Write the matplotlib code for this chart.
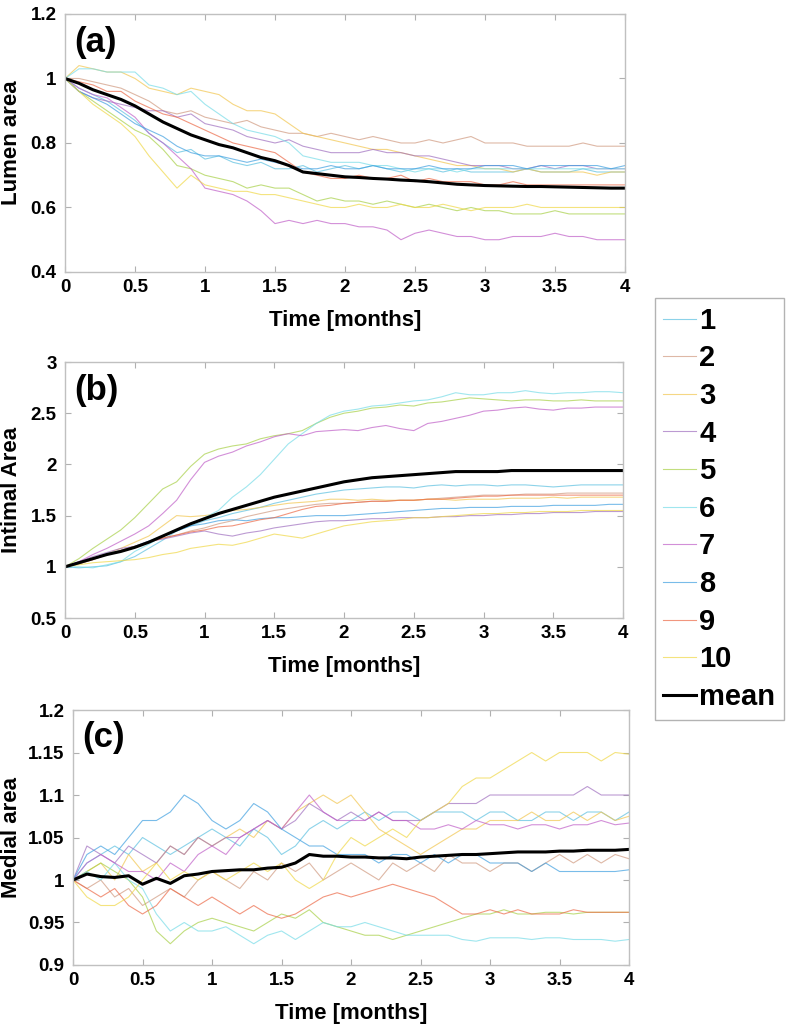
import numpy as np
import matplotlib
matplotlib.use('Agg')
import matplotlib.pyplot as plt

plt.rcParams['font.family'] = ['Liberation Sans', 'DejaVu Sans']
plt.rcParams['font.weight'] = 'bold'

# time axis, months (sampled every 0.1 month)
t = np.linspace(0, 4, 41)

labels = ['1', '2', '3', '4', '5', '6', '7', '8', '9', '10']
colors = ['#5cc0e0', '#d09a80', '#f2c650', '#a070c0', '#a8d048',
          '#78dce8', '#c060c8', '#40a0e0', '#ec6a48', '#f0d848']

# (a) lumen area
a1 = [1.00, 0.97,0.95,0.93,0.90,0.87,0.83,0.80,0.77,0.78,0.75, 0.76,0.74,0.73,0.74,0.72,0.72,0.73,0.71,0.72,0.73,
      0.72,0.73,0.72,0.71,0.72,0.72,0.71,0.72,0.71,0.71, 0.71,0.71,0.72,0.71,0.71,0.71,0.72,0.71,0.71,0.71]
a2 = [1.00, 1.00,0.99,0.98,0.97,0.95,0.93,0.90,0.89,0.90,0.88, 0.87,0.86,0.87,0.85,0.84,0.83,0.83,0.82,0.83,0.82,
      0.81,0.82,0.81,0.80,0.80,0.81,0.80,0.81,0.82,0.80, 0.80,0.80,0.79,0.79,0.79,0.79,0.80,0.79,0.79,0.79]
a3 = [1.00, 1.04,1.03,1.02,1.02,1.00,0.97,0.96,0.95,0.97,0.96, 0.95,0.92,0.90,0.90,0.89,0.86,0.83,0.82,0.81,0.80,
      0.79,0.78,0.78,0.77,0.76,0.75,0.74,0.73,0.73,0.72, 0.72,0.71,0.72,0.71,0.71,0.71,0.71,0.70,0.71,0.71]
a4 = [1.00, 0.96,0.94,0.93,0.92,0.91,0.90,0.90,0.88,0.89,0.86, 0.85,0.84,0.82,0.81,0.80,0.81,0.79,0.78,0.77,0.77,
      0.77,0.78,0.77,0.77,0.76,0.76,0.75,0.74,0.73,0.73, 0.73,0.72,0.72,0.73,0.72,0.73,0.73,0.72,0.72,0.72]
a5 = [1.00, 0.96,0.93,0.90,0.87,0.84,0.82,0.78,0.73,0.72,0.70, 0.69,0.68,0.66,0.67,0.66,0.66,0.64,0.62,0.63,0.62,
      0.62,0.61,0.62,0.61,0.60,0.61,0.60,0.59,0.60,0.59, 0.59,0.58,0.58,0.58,0.59,0.58,0.58,0.58,0.58,0.58]
a6 = [1.00, 1.03,1.03,1.02,1.02,1.02,0.98,0.97,0.95,0.96,0.92, 0.89,0.86,0.84,0.83,0.82,0.80,0.76,0.75,0.74,0.74,
      0.74,0.73,0.73,0.72,0.71,0.72,0.72,0.71,0.72,0.72, 0.72,0.72,0.72,0.72,0.72,0.72,0.72,0.72,0.72,0.72]
a7 = [1.00, 0.97,0.95,0.94,0.91,0.88,0.83,0.80,0.76,0.72,0.66, 0.65,0.64,0.62,0.59,0.55,0.56,0.55,0.56,0.55,0.55,
      0.54,0.54,0.53,0.50,0.52,0.53,0.52,0.51,0.51,0.50, 0.50,0.51,0.51,0.51,0.52,0.51,0.51,0.50,0.50,0.50]
a8 = [1.00, 0.96,0.94,0.92,0.89,0.86,0.84,0.82,0.79,0.77,0.76, 0.76,0.75,0.74,0.75,0.74,0.73,0.72,0.72,0.73,0.72,
      0.72,0.73,0.72,0.72,0.72,0.73,0.72,0.72,0.72,0.73, 0.73,0.73,0.72,0.73,0.73,0.73,0.73,0.73,0.72,0.73]
a9 = [1.00, 0.99,0.98,0.96,0.96,0.93,0.91,0.89,0.88,0.86,0.84, 0.82,0.80,0.79,0.78,0.77,0.74,0.71,0.70,0.69,0.69,
      0.70,0.69,0.69,0.70,0.68,0.69,0.68,0.68,0.68,0.67, 0.67,0.68,0.67,0.67,0.67,0.67,0.67,0.67,0.67,0.67]
a10 = [1.00, 0.96,0.92,0.89,0.86,0.82,0.76,0.71,0.66,0.70,0.67, 0.66,0.65,0.65,0.64,0.64,0.63,0.62,0.61,0.60,0.60,
       0.61,0.60,0.60,0.61,0.60,0.60,0.61,0.60,0.59,0.60, 0.60,0.60,0.61,0.60,0.60,0.60,0.60,0.60,0.60,0.60]
mean_a = [1.00, 0.985,0.965,0.950,0.935,0.915,0.890,0.865,0.845,0.825,0.810, 0.795,0.785,0.770,0.755,0.745,0.730,0.710,0.705,0.700,0.695,
          0.693,0.690,0.688,0.685,0.683,0.680,0.676,0.672,0.670,0.668, 0.667,0.666,0.665,0.665,0.664,0.663,0.662,0.661,0.660,0.660]

# (b) intimal area
b1 = [1.00, 0.99,1.00,1.01,1.05,1.10,1.18,1.26,1.35,1.40,1.45, 1.48,1.52,1.55,1.58,1.62,1.65,1.68,1.71,1.73,1.75,
      1.76,1.77,1.78,1.78,1.77,1.79,1.80,1.79,1.80,1.80, 1.79,1.80,1.80,1.79,1.78,1.79,1.80,1.80,1.80,1.80]
b2 = [1.00, 1.03,1.07,1.12,1.16,1.20,1.24,1.28,1.31,1.35,1.38, 1.42,1.45,1.49,1.52,1.55,1.57,1.59,1.61,1.62,1.62,
      1.63,1.64,1.64,1.65,1.65,1.66,1.67,1.68,1.69,1.70, 1.70,1.70,1.71,1.71,1.71,1.72,1.72,1.72,1.72,1.72]
b3 = [1.00, 1.04,1.08,1.13,1.18,1.24,1.30,1.40,1.50,1.49,1.50, 1.52,1.55,1.56,1.58,1.60,1.62,1.63,1.64,1.66,1.66,
      1.65,1.66,1.65,1.65,1.65,1.66,1.66,1.65,1.66,1.66, 1.66,1.67,1.67,1.67,1.68,1.67,1.68,1.68,1.68,1.68]
b4 = [1.00, 1.05,1.10,1.14,1.18,1.20,1.25,1.27,1.30,1.33,1.35, 1.32,1.30,1.33,1.35,1.38,1.40,1.42,1.44,1.45,1.45,
      1.46,1.47,1.47,1.48,1.48,1.48,1.49,1.49,1.50,1.50, 1.51,1.51,1.52,1.52,1.53,1.53,1.53,1.54,1.54,1.54]
b5 = [1.00, 1.08,1.18,1.27,1.36,1.48,1.62,1.76,1.83,1.98,2.10, 2.15,2.18,2.20,2.25,2.28,2.30,2.33,2.40,2.46,2.50,
      2.52,2.55,2.56,2.58,2.57,2.60,2.61,2.63,2.65,2.64, 2.63,2.62,2.63,2.63,2.62,2.62,2.63,2.62,2.62,2.62]
b6 = [1.00, 1.00,0.99,1.02,1.05,1.15,1.22,1.30,1.35,1.42,1.48, 1.55,1.68,1.78,1.90,2.05,2.20,2.30,2.40,2.48,2.52,
      2.54,2.57,2.58,2.60,2.62,2.63,2.66,2.70,2.68,2.68, 2.70,2.70,2.72,2.70,2.69,2.70,2.70,2.71,2.71,2.70]
b7 = [1.00, 1.05,1.12,1.18,1.25,1.32,1.40,1.52,1.65,1.85,2.02, 2.08,2.12,2.18,2.22,2.27,2.30,2.28,2.32,2.33,2.34,
      2.33,2.36,2.38,2.35,2.33,2.40,2.42,2.45,2.48,2.52, 2.53,2.55,2.56,2.54,2.53,2.55,2.55,2.56,2.56,2.56]
b8 = [1.00, 1.03,1.08,1.13,1.16,1.20,1.25,1.30,1.35,1.40,1.42, 1.45,1.46,1.45,1.47,1.48,1.48,1.49,1.50,1.50,1.50,
      1.51,1.52,1.53,1.54,1.55,1.56,1.57,1.57,1.58,1.58, 1.58,1.59,1.59,1.59,1.60,1.60,1.60,1.60,1.61,1.61]
b9 = [1.00, 1.03,1.07,1.12,1.16,1.20,1.24,1.28,1.31,1.34,1.36, 1.39,1.40,1.43,1.46,1.48,1.52,1.56,1.59,1.60,1.62,
      1.63,1.64,1.64,1.65,1.65,1.66,1.66,1.67,1.68,1.69, 1.69,1.70,1.70,1.70,1.70,1.70,1.70,1.70,1.70,1.70]
b10 = [1.00, 1.02,1.04,1.05,1.06,1.07,1.09,1.12,1.14,1.18,1.20, 1.22,1.21,1.24,1.28,1.32,1.30,1.28,1.32,1.36,1.40,
       1.42,1.44,1.45,1.46,1.48,1.48,1.49,1.50,1.51,1.52, 1.52,1.53,1.53,1.54,1.54,1.54,1.55,1.55,1.55,1.55]
mean_b = [1.00, 1.04,1.08,1.12,1.15,1.19,1.24,1.30,1.36,1.42,1.47, 1.52,1.56,1.60,1.64,1.68,1.71,1.74,1.77,1.80,1.83,
          1.85,1.87,1.88,1.89,1.90,1.91,1.92,1.93,1.93,1.93, 1.93,1.94,1.94,1.94,1.94,1.94,1.94,1.94,1.94,1.94]

# (c) medial area
c1 = [1.00, 1.02,1.03,1.04,1.03,1.05,1.04,1.03,1.04,1.05,1.06, 1.05,1.04,1.06,1.05,1.03,1.04,1.06,1.07,1.06,1.07,
      1.08,1.07,1.08,1.08,1.07,1.08,1.08,1.08,1.07,1.08, 1.08,1.07,1.07,1.08,1.08,1.07,1.08,1.08,1.07,1.08]
c2 = [1.00, 0.99,1.00,0.98,0.99,0.97,0.98,0.99,0.98,1.00,1.01, 1.00,0.99,1.01,1.00,1.02,1.01,1.02,1.00,1.01,1.02,
      1.01,1.00,1.02,1.01,1.02,1.01,1.03,1.02,1.02,1.01, 1.02,1.02,1.01,1.02,1.03,1.02,1.03,1.02,1.03,1.025]
c3 = [1.00, 1.01,1.02,1.00,1.03,1.01,1.02,1.04,1.03,1.05,1.04, 1.05,1.06,1.05,1.07,1.06,1.08,1.09,1.10,1.09,1.10,
      1.08,1.06,1.05,1.04,1.03,1.04,1.05,1.06,1.06,1.07, 1.07,1.07,1.08,1.07,1.07,1.08,1.07,1.08,1.07,1.075]
c4 = [1.00, 1.04,1.03,1.02,1.04,1.03,1.02,1.04,1.03,1.05,1.04, 1.05,1.05,1.06,1.07,1.06,1.07,1.09,1.08,1.07,1.08,
      1.07,1.08,1.07,1.07,1.07,1.08,1.09,1.09,1.09,1.10, 1.10,1.10,1.10,1.10,1.10,1.10,1.11,1.10,1.10,1.10]
c5 = [1.00, 1.01,1.02,1.01,1.00,0.98,0.94,0.925,0.94,0.95,0.955, 0.95,0.945,0.94,0.95,0.96,0.955,0.965,0.95,0.945,0.94,
      0.935,0.935,0.930,0.935,0.940,0.945,0.950,0.955,0.960,0.960, 0.965,0.960,0.960,0.962,0.962,0.960,0.962,0.962,0.962,0.962]
c6 = [1.00, 1.01,1.00,1.02,1.00,0.99,0.96,0.94,0.95,0.94,0.94, 0.945,0.935,0.925,0.935,0.94,0.93,0.94,0.95,0.945,0.945,
      0.95,0.945,0.94,0.935,0.935,0.935,0.935,0.930,0.928,0.932, 0.932,0.932,0.930,0.932,0.932,0.930,0.930,0.930,0.928,0.930]
c7 = [1.00, 1.02,1.03,1.02,1.01,1.01,1.00,1.02,1.01,1.03,1.04, 1.03,1.05,1.06,1.07,1.06,1.08,1.10,1.08,1.07,1.07,
      1.07,1.08,1.07,1.07,1.06,1.06,1.065,1.06,1.07,1.065, 1.065,1.06,1.065,1.065,1.06,1.065,1.065,1.07,1.065,1.067]
c8 = [1.00, 1.03,1.04,1.03,1.05,1.07,1.07,1.08,1.10,1.09,1.07, 1.06,1.07,1.09,1.08,1.06,1.05,1.04,1.04,1.03,1.03,
      1.03,1.02,1.03,1.03,1.02,1.03,1.02,1.03,1.03,1.02, 1.02,1.02,1.01,1.02,1.01,1.01,1.01,1.01,1.01,1.012]
c9 = [1.00, 0.99,0.98,0.99,0.97,0.96,0.97,0.99,0.98,0.97,0.98, 0.97,0.96,0.97,0.96,0.955,0.96,0.97,0.98,0.985,0.98,
      0.985,0.99,0.995,0.99,0.985,0.98,0.97,0.96,0.96,0.965, 0.96,0.965,0.96,0.96,0.96,0.965,0.962,0.962,0.962,0.962]
c10 = [1.00, 0.98,0.97,0.97,0.98,1.00,1.02,1.00,1.01,1.00,1.01, 1.00,1.01,1.02,1.01,1.02,1.00,0.99,1.00,1.03,1.05,
       1.04,1.05,1.06,1.05,1.07,1.08,1.09,1.11,1.12,1.12, 1.13,1.14,1.15,1.14,1.15,1.15,1.15,1.14,1.15,1.148]
mean_c = [1.000, 1.007,1.004,1.003,1.005,0.995,1.002,0.996,1.005,1.007,1.010, 1.011,1.012,1.012,1.014,1.015,1.020,1.030,1.028,1.028,1.027,
          1.027,1.026,1.026,1.025,1.027,1.028,1.029,1.030,1.030,1.031, 1.032,1.033,1.033,1.033,1.034,1.034,1.035,1.035,1.035,1.036]

panels = [
    ([a1, a2, a3, a4, a5, a6, a7, a8, a9, a10], mean_a, 'Lumen area', '(a)',
     (0.4, 1.2), [0.4, 0.6, 0.8, 1.0, 1.2], ['0.4', '0.6', '0.8', '1', '1.2'],
     [0.0827, 0.7357, 0.7125, 0.2507]),
    ([b1, b2, b3, b4, b5, b6, b7, b8, b9, b10], mean_b, 'Intimal Area', '(b)',
     (0.5, 3.0), [0.5, 1, 1.5, 2, 2.5, 3], ['0.5', '1', '1.5', '2', '2.5', '3'],
     [0.0827, 0.3994, 0.7100, 0.2488]),
    ([c1, c2, c3, c4, c5, c6, c7, c8, c9, c10], mean_c, 'Medial area', '(c)',
     (0.9, 1.2), [0.9, 0.95, 1.0, 1.05, 1.1, 1.15, 1.2],
     ['0.9', '0.95', '1', '1.05', '1.1', '1.15', '1.2'],
     [0.0929, 0.0622, 0.7074, 0.2478]),
]

fig = plt.figure(figsize=(7.86, 10.29), dpi=100)

for series, mean, ylab, tag, ylim, yt, ytl, rect in panels:
    ax = fig.add_axes(rect)
    for i in range(10):
        ax.plot(t, series[i], color=colors[i], lw=0.8, alpha=0.7, label=labels[i])
    ax.plot(t, mean, color='black', lw=2.2, label='mean')
    ax.set_xlim(0, 4)
    ax.set_ylim(*ylim)
    ax.set_xticks([0, 0.5, 1, 1.5, 2, 2.5, 3, 3.5, 4])
    ax.set_xticklabels(['0', '0.5', '1', '1.5', '2', '2.5', '3', '3.5', '4'])
    ax.set_yticks(yt)
    ax.set_yticklabels(ytl)
    ax.tick_params(direction='in', top=True, right=True, length=4, color='#b0b0b0',
                   labelsize=13.5)
    ax.tick_params(axis='x', pad=5)
    ax.tick_params(axis='y', pad=6)
    for s in ax.spines.values():
        s.set_color('#c0c0c0')
        s.set_linewidth(1.0)
    ax.set_xlabel('Time [months]', fontsize=16, fontweight='bold', labelpad=10)
    ax.set_ylabel(ylab, fontsize=16, fontweight='bold')
    # right edge of the rotated label about 22 px from the figure edge
    ax.yaxis.set_label_coords((22 / 786 - rect[0]) / rect[2], 0.5)
    ax.text(0.017, 0.955, tag, transform=ax.transAxes, fontsize=25, fontweight='bold',
            va='top', ha='left')
    if tag == '(a)':
        handles, hl = ax.get_legend_handles_labels()

leg = fig.legend(handles, hl, loc='upper left', bbox_to_anchor=(0.833, 0.7104),
                 fontsize=21, frameon=True, fancybox=False, edgecolor='#a0a0a0',
                 handlelength=1.1, handletextpad=0.12, labelspacing=0.33,
                 borderpad=0.3, borderaxespad=0)
leg.get_frame().set_linewidth(1.0)
for txt in leg.get_texts():
    txt.set_fontweight('bold')

fig.savefig('out.png', dpi=100)
